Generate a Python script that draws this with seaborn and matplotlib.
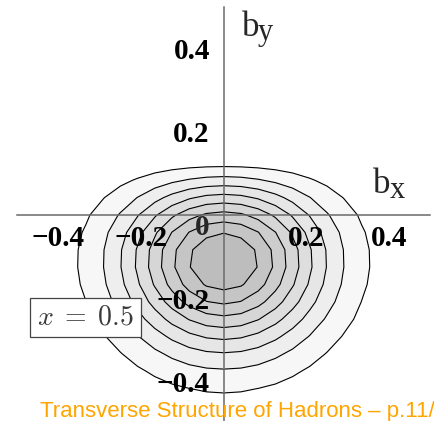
import numpy as np
import matplotlib
matplotlib.use("Agg")
import matplotlib.pyplot as plt
from matplotlib.ticker import MultipleLocator
import seaborn as sns

# Transverse plane (b_x, b_y) and its sampling grid
b_min, b_max = -0.5, 0.5
n_grid = 25

# Distorted impact-parameter density:  exp(-b^2 / 2w^2) * (1 - b_y / b_zero)
gauss_width = 0.1675
dipole_zero = 0.144
n_contours = 8
x_value = 0.5

major_ticks = [-0.4, -0.2, 0.2, 0.4]
major_labels = ["\u22120.4", "\u22120.2", "0.2", "0.4"]
minor_step = 0.04

sns.set_style("white")
plt.rcParams["font.family"] = ["Liberation Serif", "DejaVu Sans"]
plt.rcParams["mathtext.fontset"] = "cm"

axis_grey = "#6a6a6a"

fig = plt.figure(figsize=(4.34, 4.21), dpi=100)
ax = fig.add_axes([17.0 / 434, -2.35 / 421, 413.4 / 434, 416.7 / 421])
ax.set_axisbelow(False)

bx = np.linspace(b_min, b_max, n_grid)
by = np.linspace(b_min, b_max, n_grid)
BX, BY = np.meshgrid(bx, by)
density = np.exp(-(BX**2 + BY**2) / (2 * gauss_width**2)) * (1 - BY / dipole_zero)
density = np.clip(density, 0, None)

peak = density.max()
levels = [peak * k / (n_contours + 1) for k in range(1, n_contours + 1)]
fill_levels = levels + [peak * 1.001]
shades = sns.blend_palette(["#ffffff", "#bdbdbd"], n_contours + 1)[1:]

ax.contourf(BX, BY, density, levels=fill_levels, colors=shades, zorder=1)
ax.contour(BX, BY, density, levels=levels, colors="black", linewidths=0.8, zorder=1.5)

ax.set_xlim(b_min, b_max)
ax.set_ylim(b_min, b_max)

# Axes crossing at the origin
for side in ("top", "right"):
    ax.spines[side].set_visible(False)
for side in ("left", "bottom"):
    ax.spines[side].set_position("zero")
    ax.spines[side].set_color(axis_grey)
    ax.spines[side].set_linewidth(1.1)
    ax.spines[side].set_zorder(3)

ax.set_xticks(major_ticks, major_labels, fontweight="bold")
ax.set_yticks(major_ticks, major_labels, fontweight="bold")
ax.xaxis.set_minor_locator(MultipleLocator(minor_step))
ax.yaxis.set_minor_locator(MultipleLocator(minor_step))
ax.tick_params(which="major", direction="out", length=7, width=1.0, color=axis_grey,
               labelsize=21, labelcolor="black")
ax.tick_params(which="minor", direction="out", length=3.5, width=1.0, color=axis_grey)
ax.tick_params(axis="x", which="major", pad=0)
ax.tick_params(axis="y", which="major", pad=3)

# Origin label
ax.text(-0.0525, 0.002, "0", ha="center", va="top", fontsize=21, fontweight="bold", zorder=4)

# Axis names
ax.text(0.044, 0.43, "b", fontsize=25, ha="left", va="baseline")
ax.text(0.083, 0.419, "y", fontsize=22, ha="left", va="baseline")
ax.text(0.362, 0.053, "b", fontsize=25, ha="left", va="baseline")
ax.text(0.402, 0.041, "x", fontsize=22, ha="left", va="baseline")

# Momentum-fraction tag
ax.text(-0.334, -0.247, rf"$x\;=\;{x_value}$", ha="center", va="center", fontsize=20,
        color="#3a3a3a", zorder=5,
        bbox=dict(boxstyle="square,pad=0.25", fc="white", ec="#444444", lw=0.9))

fig.text(40 / 434, 4.5 / 421, "Transverse Structure of Hadrons \u2013 p.11/",
         color="#ffa500", fontsize=16.0, family=["Liberation Sans", "DejaVu Sans"],
         ha="left", va="baseline")

fig.savefig("out.png", dpi=100)
